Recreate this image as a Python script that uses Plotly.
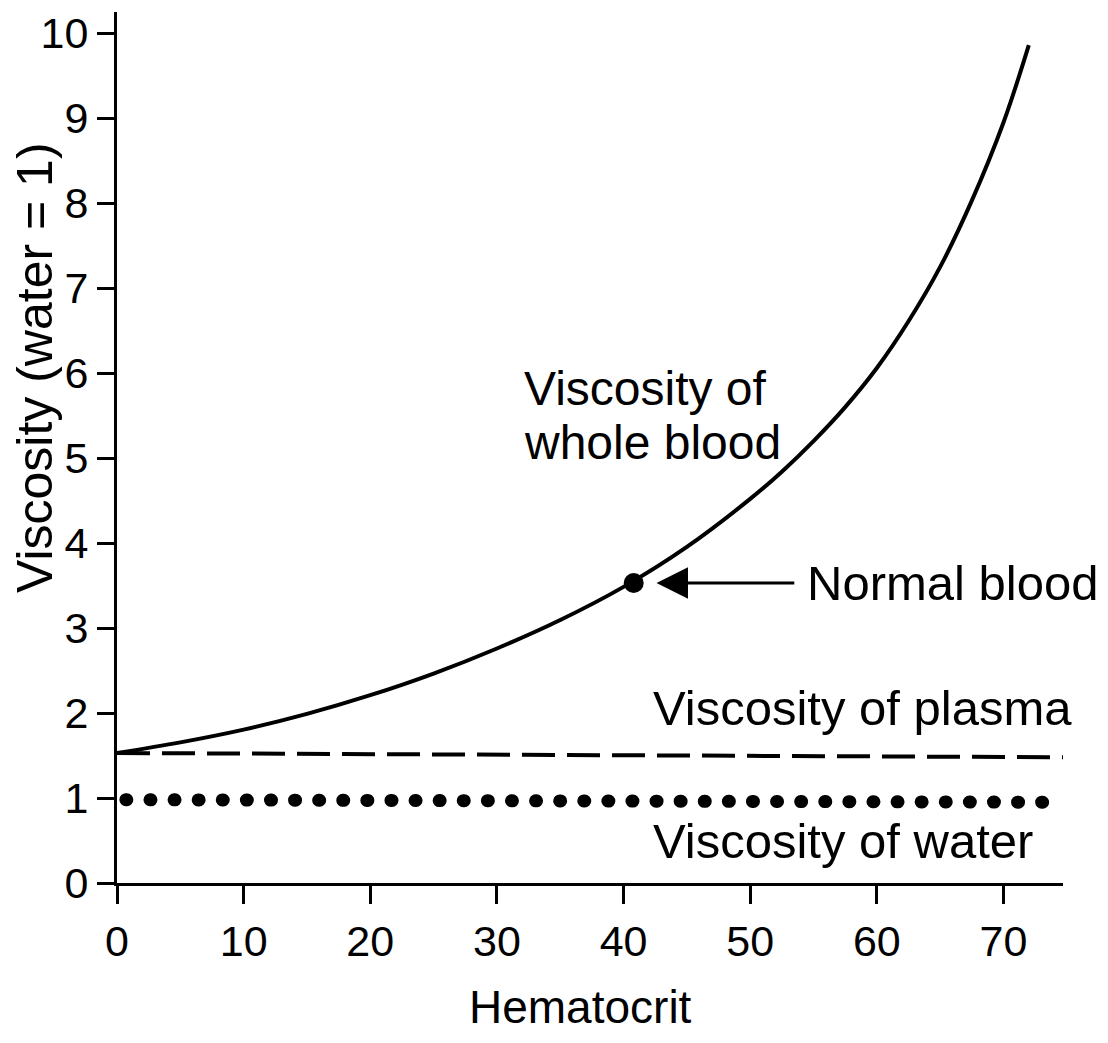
import plotly.graph_objects as go

# ---- data ----
hematocrit = [0, 5, 10, 15, 20, 25, 30, 35, 40, 45, 50, 52.5, 55, 57.5, 60, 62.5, 65, 67.5, 70, 72]
blood_viscosity = [1.53, 1.655, 1.805, 1.99, 2.21, 2.465, 2.76, 3.095, 3.485, 3.955, 4.52,
                   4.84, 5.20, 5.60, 6.06, 6.61, 7.25, 8.03, 8.95, 9.86]
plasma_x = [0, 74.7]
plasma_y = [1.53, 1.48]
water_x = [0.7, 74.7]
water_y = [0.98, 0.95]
normal_x = [40.8]
normal_y = [3.53]
x_ticks = [0, 10, 20, 30, 40, 50, 60, 70]
y_ticks = [0, 1, 2, 3, 4, 5, 6, 7, 8, 9, 10]

FONT = "Liberation Sans, Arial, Helvetica, sans-serif"
LBL = 49

fig = go.Figure()
fig.add_trace(go.Scatter(x=hematocrit, y=blood_viscosity, mode="lines",
                         line=dict(color="black", width=4, shape="spline", smoothing=1),
                         name="Whole blood", hoverinfo="skip"))
fig.add_trace(go.Scatter(x=plasma_x, y=plasma_y, mode="lines",
                         line=dict(color="black", width=4, dash="33px,12px"),
                         name="Plasma", hoverinfo="skip"))
fig.add_trace(go.Scatter(x=water_x, y=water_y, mode="lines",
                         line=dict(color="black", width=13, dash="1px,23.1px"),
                         name="Water", hoverinfo="skip"))
fig.add_trace(go.Scatter(x=normal_x, y=normal_y, mode="markers",
                         marker=dict(color="black", size=20),
                         name="Normal blood", hoverinfo="skip"))

ann = []
ann.append(dict(x=42.6, y=normal_y[0], ax=53.6, ay=normal_y[0], axref="x", ayref="y",
                xref="x", yref="y", text="", showarrow=True,
                arrowhead=2, arrowsize=2.1, arrowwidth=3, arrowcolor="black"))
ann.append(dict(x=54.3, y=normal_y[0], xref="x", yref="y", text="Normal blood",
                showarrow=False, xanchor="left", yanchor="middle",
                font=dict(size=49, color="black", family=FONT)))
ann.append(dict(x=32.0, y=5.82, xref="x", yref="y", text="Viscosity of",
                showarrow=False, xanchor="left", yanchor="middle",
                font=dict(size=48, color="black", family=FONT)))
ann.append(dict(x=32.0, y=5.18, xref="x", yref="y", text="whole blood",
                showarrow=False, xanchor="left", yanchor="middle",
                font=dict(size=48, color="black", family=FONT)))
ann.append(dict(x=42.2, y=2.06, xref="x", yref="y", text="Viscosity of plasma",
                showarrow=False, xanchor="left", yanchor="middle",
                font=dict(size=LBL, color="black", family=FONT)))
ann.append(dict(x=42.2, y=0.5, xref="x", yref="y", text="Viscosity of water",
                showarrow=False, xanchor="left", yanchor="middle",
                font=dict(size=LBL, color="black", family=FONT)))
ann.append(dict(x=0.5, y=-0.142, xref="paper", yref="paper", text="Hematocrit",
                showarrow=False, xanchor="center", yanchor="middle", xshift=-10,
                font=dict(size=46, color="black", family=FONT)))
ann.append(dict(x=0, y=6.06, xref="paper", yref="y", text="Viscosity (water = 1)",
                showarrow=False, xanchor="center", yanchor="middle", textangle=-90,
                xshift=-82, font=dict(size=50, color="black", family=FONT)))

fig.update_layout(
    width=1108, height=1043,
    margin=dict(l=117, r=45, t=12, b=160),
    paper_bgcolor="white", plot_bgcolor="white",
    showlegend=False,
    annotations=ann,
    font=dict(family=FONT, color="black"),
)
fig.update_xaxes(range=[0, 74.7], tickvals=x_ticks, ticks="outside", ticklen=18, tickwidth=3,
                 tickcolor="black", showline=True, linewidth=3, linecolor="black",
                 showgrid=False, zeroline=False, automargin=False,
                 tickfont=dict(size=43, color="black", family=FONT))
fig.update_yaxes(range=[0, 10.25], tickvals=y_ticks, ticks="outside", ticklen=17, tickwidth=3,
                 tickcolor="black", showline=True, linewidth=3, linecolor="black",
                 showgrid=False, zeroline=False, automargin=False,
                 tickfont=dict(size=43, color="black", family=FONT))

post = """
document.body.style.margin = '0';
var gd = document.getElementById('{plot_id}');
var paths = gd.querySelectorAll('.scatterlayer .trace')[2].querySelectorAll('path.js-line');
paths.forEach(function(p){ p.style.strokeLinecap = 'round'; });
"""

fig.write_html("out.html", post_script=post, config={"displayModeBar": False})
